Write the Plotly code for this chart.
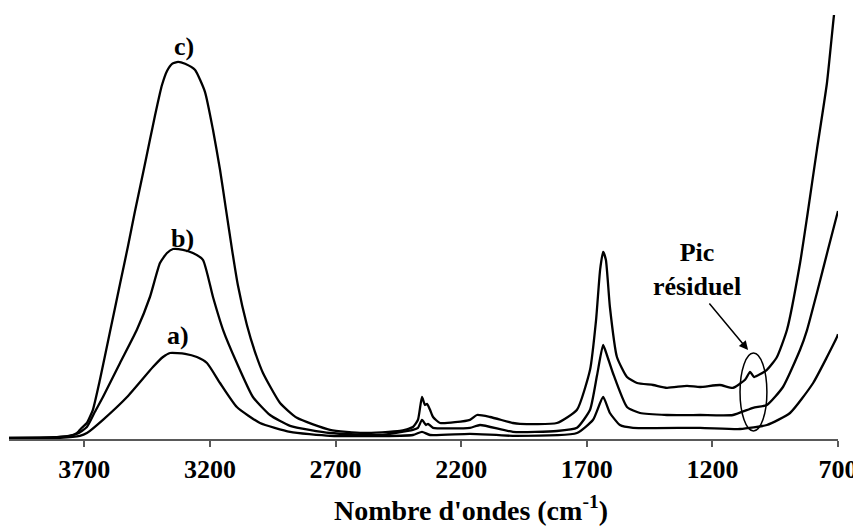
import plotly.graph_objects as go

# Wavenumbers (cm-1) and absorbance values
wn_c = [4000, 3877, 3797, 3757, 3729, 3710, 3690, 3666, 3638, 3598, 3558, 3526, 3499, 3467,
        3439, 3419, 3399, 3391, 3371, 3351, 3327, 3299, 3260, 3220, 3188, 3160, 3136, 3112,
        3089, 3053, 3021, 2989, 2921, 2854, 2722, 2591, 2444, 2392, 2372, 2356, 2344, 2336,
        2324, 2312, 2284, 2165, 2137, 2085, 1994, 1966, 1819, 1739, 1687, 1663, 1647, 1635,
        1624, 1608, 1580, 1540, 1500, 1436, 1381, 1301, 1249, 1170, 1118, 1070, 1050, 1034,
        983, 943, 903, 851, 823, 784, 744, 716, 700]
abs_c = [0.003, 0.003, 0.005, 0.008, 0.015, 0.028, 0.040, 0.073, 0.148, 0.268, 0.388, 0.483,
         0.568, 0.663, 0.748, 0.808, 0.865, 0.885, 0.920, 0.938, 0.943, 0.938, 0.923, 0.868,
         0.773, 0.673, 0.573, 0.473, 0.385, 0.285, 0.218, 0.165, 0.090, 0.053, 0.023, 0.015,
         0.020, 0.030, 0.048, 0.105, 0.085, 0.088, 0.073, 0.055, 0.040, 0.048, 0.060, 0.055,
         0.040, 0.038, 0.040, 0.073, 0.173, 0.298, 0.423, 0.468, 0.448, 0.330, 0.205, 0.155,
         0.140, 0.135, 0.128, 0.133, 0.130, 0.135, 0.128, 0.148, 0.168, 0.155, 0.173, 0.205,
         0.273, 0.440, 0.555, 0.723, 0.890, 1.060, 1.140]

wn_b = [4000, 3797, 3729, 3690, 3658, 3626, 3558, 3491, 3439, 3399, 3371, 3347, 3307, 3268,
        3228, 3188, 3148, 3093, 3029, 2961, 2881, 2722, 2523, 2392, 2372, 2356, 2340, 2332,
        2312, 2165, 2125, 1994, 1819, 1739, 1687, 1659, 1635, 1620, 1596, 1540, 1488, 1381,
        1249, 1118, 1038, 983, 919, 851, 823, 784, 740, 700]
abs_b = [0.003, 0.005, 0.013, 0.030, 0.068, 0.105, 0.190, 0.273, 0.355, 0.440, 0.465, 0.475,
         0.473, 0.465, 0.448, 0.355, 0.273, 0.190, 0.105, 0.060, 0.033, 0.015, 0.010, 0.023,
         0.028, 0.048, 0.035, 0.038, 0.028, 0.028, 0.035, 0.018, 0.020, 0.028, 0.073, 0.160,
         0.235, 0.210, 0.165, 0.080, 0.065, 0.060, 0.060, 0.060, 0.078, 0.085, 0.130, 0.223,
         0.273, 0.365, 0.473, 0.570]

wn_a = [4000, 3797, 3718, 3690, 3626, 3530, 3427, 3387, 3359, 3299, 3252, 3212, 3160, 3093,
        3001, 2881, 2722, 2392, 2356, 2324, 2165, 1994, 1739, 1675, 1635, 1608, 1568, 1516,
        1249, 1090, 983, 891, 799, 704, 700]
abs_a = [0.001, 0.003, 0.008, 0.015, 0.048, 0.105, 0.180, 0.205, 0.215, 0.213, 0.205, 0.190,
         0.140, 0.080, 0.040, 0.018, 0.008, 0.010, 0.018, 0.010, 0.013, 0.008, 0.015, 0.048,
         0.105, 0.065, 0.035, 0.028, 0.028, 0.025, 0.035, 0.065, 0.140, 0.255, 0.262]

tick_vals = [3700, 3200, 2700, 2200, 1700, 1200, 700]
tick_text = ["3700", "3200", "2700", "2200", "1700", "1200", "700"]

FONT = "Liberation Serif"

fig = go.Figure()
for xs, ys, name in [(wn_a, abs_a, "a)"), (wn_b, abs_b, "b)"), (wn_c, abs_c, "c)")]:
    fig.add_trace(go.Scatter(x=xs, y=ys, mode="lines", name=name,
                             line=dict(color="black", width=2.3, shape="spline", smoothing=0.5),
                             hoverinfo="x+y"))

def f(size=26):
    return dict(family=FONT, size=size, color="black", weight="bold")

for txt, x, y in [("c)", 3303, 0.982), ("b)", 3311, 0.502), ("a)", 3327, 0.26)]:
    fig.add_annotation(x=x, y=y, xref="x", yref="y", text=txt, showarrow=False, font=f())

fig.add_annotation(x=1261, y=0.425, xref="x", yref="y", text="Pic<br>résiduel",
                   showarrow=False, font=f(), align="center")
fig.add_annotation(x=1058, y=0.2225, xref="x", yref="y", ax=1217, ay=0.3425,
                   axref="x", ayref="y", text="", showarrow=True,
                   arrowhead=2, arrowsize=1.2, arrowwidth=1.5, arrowcolor="black")
fig.add_shape(type="circle", xref="x", yref="y", x0=1090, x1=983, y0=0.02, y1=0.215,
              line=dict(color="black", width=1.5))

fig.add_annotation(x=(471 - 9) / 829, y=-0.165, xref="paper", yref="paper",
                   text="Nombre d'ondes (cm<sup>-1</sup>)", showarrow=False,
                   font=f(28), xanchor="center", yanchor="middle")

# page body adds an 8 px offset, so the figure is 8 px smaller on each axis
fig.update_layout(
    width=853, height=518,
    margin=dict(l=1, r=23, t=7, b=87),
    plot_bgcolor="white", paper_bgcolor="white",
    showlegend=False,
    xaxis=dict(range=[4000, 700], tickvals=tick_vals, ticktext=tick_text,
               showline=True, linecolor="#595959", linewidth=1.5,
               ticks="outside", ticklen=6, tickwidth=1.5, tickcolor="#595959",
               showgrid=False, zeroline=False,
               tickfont=f()),
    yaxis=dict(range=[0, 1.06], visible=False, showgrid=False, zeroline=False),
)

fig.write_html("out.html")
